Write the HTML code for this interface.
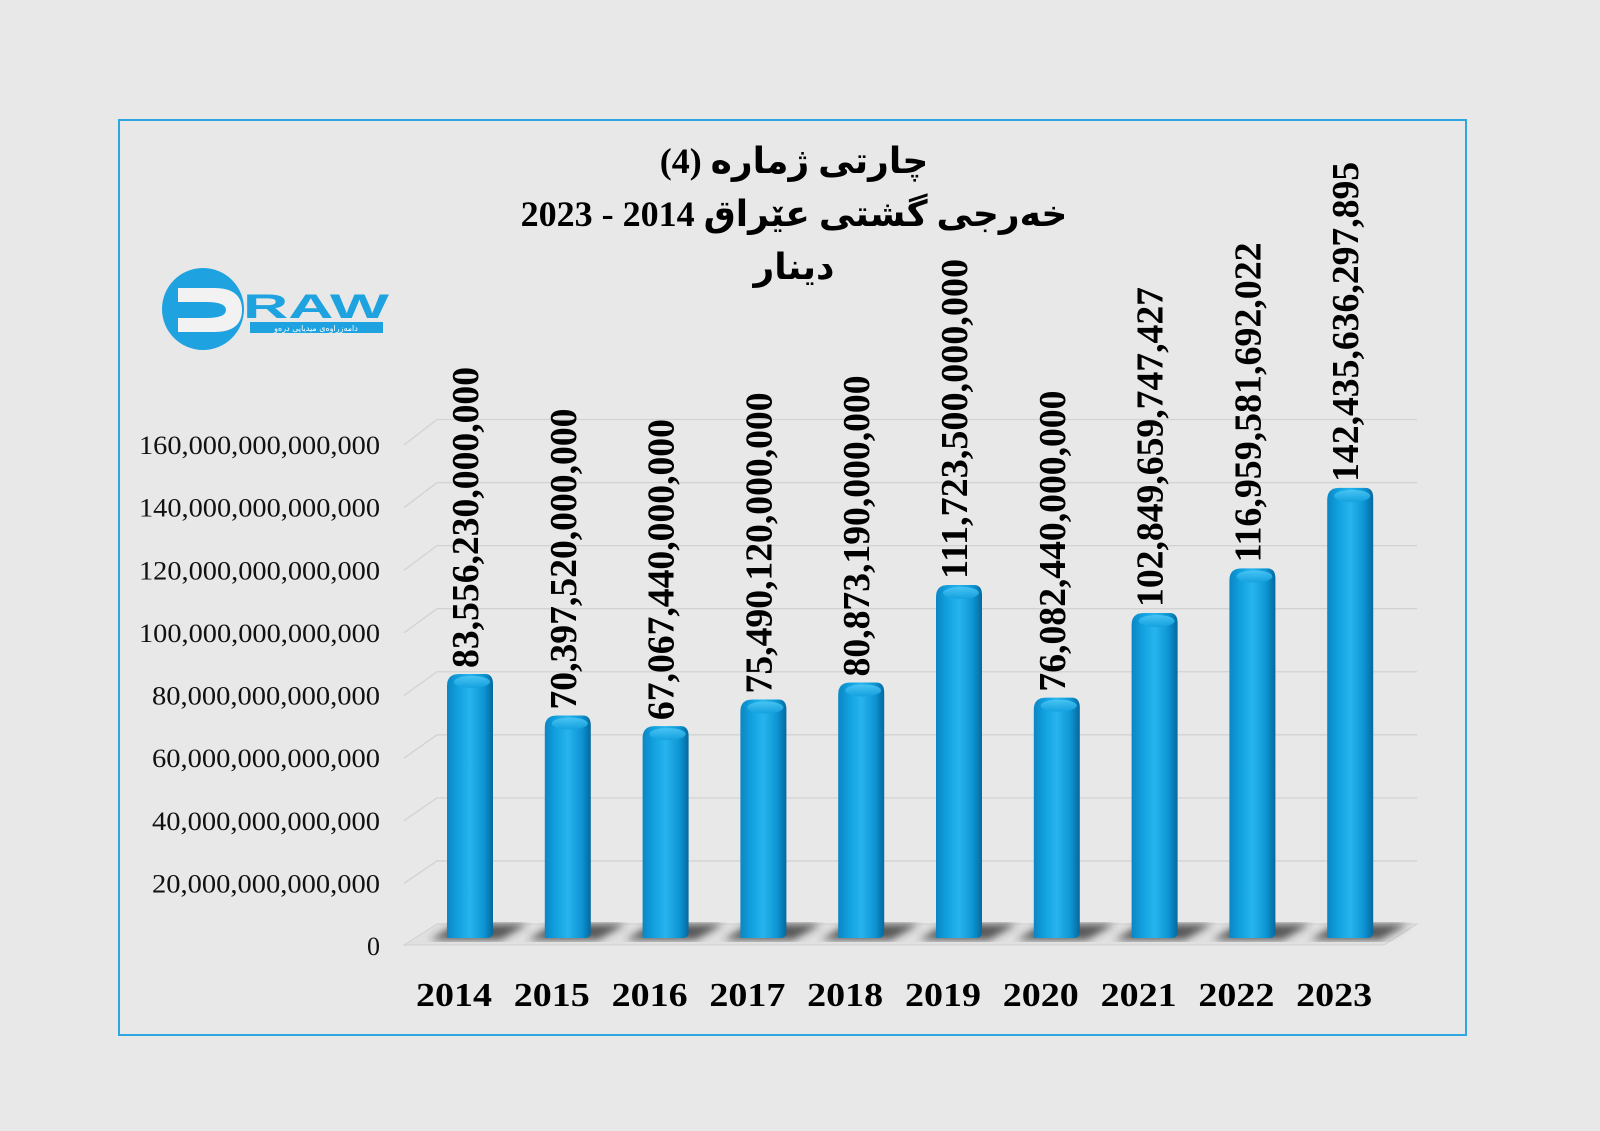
<!DOCTYPE html>
<html><head><meta charset="utf-8">
<style>
body{margin:0;background:#e8e8e8;}
svg{display:block;}
</style></head>
<body>
<svg id="chart" width="1600" height="1131" viewBox="0 0 1600 1131" xmlns="http://www.w3.org/2000/svg">
<defs>
<linearGradient id="barG" x1="0" x2="1" y1="0" y2="0">
<stop offset="0" stop-color="#0b86c4"/>
<stop offset="0.25" stop-color="#12a2e0"/>
<stop offset="0.5" stop-color="#27b4ee"/>
<stop offset="0.8" stop-color="#0d95d3"/>
<stop offset="1" stop-color="#05689e"/>
</linearGradient>
<linearGradient id="capG" x1="0" x2="0" y1="0" y2="1">
<stop offset="0" stop-color="#4cc6f5"/>
<stop offset="1" stop-color="#13a0de"/>
</linearGradient>
<filter id="blur"><feGaussianBlur stdDeviation="4"/></filter>
</defs>
<rect x="0" y="0" width="1600" height="1131" fill="#e8e8e8"/>
<rect x="119" y="120" width="1347" height="915" fill="none" stroke="#2ea6df" stroke-width="2"/>

<g font-family="'Liberation Serif','DejaVu Sans',serif" font-weight="bold" font-size="36" text-anchor="middle" fill="#000">
<text x="794" y="173" direction="rtl">چارتی ژمارە (4)</text>
<text x="794" y="226" direction="rtl">خەرجی گشتی عێراق 2014 - 2023</text>
<text x="794" y="279" direction="rtl">دینار</text>
</g>

<g>
<circle cx="203" cy="309" r="41" fill="#1ea3e0"/>
<path d="M178 288 L214 288 Q242 288 242 310 Q242 332 214 332 L178 332 L178 318 L206 318 Q226 318 226 310 Q226 302 206 302 L178 302 Z" fill="#f2f2f2"/>
<text x="243" y="318" font-family="'Liberation Sans',sans-serif" font-weight="bold" font-size="34" fill="#1ea3e0" textLength="146" lengthAdjust="spacingAndGlyphs">RAW</text>
<rect x="250" y="322" width="133" height="11" fill="#1ea3e0"/>
<text x="316" y="331" font-family="'DejaVu Sans',sans-serif" font-size="8" fill="#fff" text-anchor="middle" direction="rtl">دامەزراوەی میدیایی درەو</text>
</g>

<g id="grid"></g>
<g id="floor"></g>
<g id="yaxis"></g>
<g id="bars"></g>
<g id="vlabels"></g>
<g id="xaxis"></g>
</svg>
<script>
const categories = ["2014","2015","2016","2017","2018","2019","2020","2021","2022","2023"];
const values = [83.55623, 70.39752, 67.06744, 75.49012, 80.87319, 111.7235, 76.08244, 102.8496597, 116.9595817, 142.4356363];
const valueLabels = ["83,556,230,000,000","70,397,520,000,000","67,067,440,000,000","75,490,120,000,000","80,873,190,000,000","111,723,500,000,000","76,082,440,000,000","102,849,659,747,427","116,959,581,692,022","142,435,636,297,895"];
const yTicks = [0,20,40,60,80,100,120,140,160];
const yTickLabels = ["0","20,000,000,000,000","40,000,000,000,000","60,000,000,000,000","80,000,000,000,000","100,000,000,000,000","120,000,000,000,000","140,000,000,000,000","160,000,000,000,000"];

const NS = "http://www.w3.org/2000/svg";
const baseY = 938, scale = 3.16;
function yBar(v){ return baseY - v*scale; }
function yBack(v){ return 924 - v*3.153; }
function yFront(v){ return 946 - v*3.131; }
function xCenter(i){ return 470 + i*97.8; }
function mk(tag, attrs, parent){ const e=document.createElementNS(NS,tag); for(const k in attrs) e.setAttribute(k,attrs[k]); parent.appendChild(e); return e; }

const grid=document.getElementById('grid');
const yaxis=document.getElementById('yaxis');
yTicks.forEach((t,i)=>{
  const yb=yBack(t), yf=yFront(t);
  if(t>0){
    const l=mk('path',{d:`M404 ${yf} L437 ${yb} L1417 ${yb}`,fill:'none',stroke:'#d2d2d2','stroke-width':1.3},grid);
    
    
  }
  const tx=mk('text',{x:380,y:yf+9,'text-anchor':'end','font-family':"'Liberation Serif',serif",'font-size':26,fill:'#111'},yaxis);
  
  
  tx.textContent=yTickLabels[i];
  if(t>0){ tx.setAttribute('textLength', String(yTickLabels[i].length>18?241:228)); tx.setAttribute('lengthAdjust','spacingAndGlyphs'); }
});
const floor=document.getElementById('floor');
const fl=mk('path',{d:'M404 945 L437 924 L1417 924 L1384 945 Z',fill:'#e0e0e0',stroke:'#cfcfcf'},floor);



const bars=document.getElementById('bars');
const vl=document.getElementById('vlabels');
const xa=document.getElementById('xaxis');
categories.forEach((c,i)=>{
  const cx=xCenter(i), w=46, top=yBar(values[i]);
  const sh=mk('path',{d:`M${cx-40} 940 L${cx-14} 924 L${cx+58} 924 L${cx+30} 940 Z`,fill:'#2a2a2a',opacity:0.75,filter:'url(#blur)'},floor);
  
  
  const g=mk('g',{},bars);
  
  
  mk('path',{d:`M${cx-w/2} ${baseY} L${cx-w/2} ${top+12} Q${cx-w/2} ${top} ${cx-w/2+12} ${top} L${cx+w/2-8} ${top} Q${cx+w/2} ${top} ${cx+w/2} ${top+10} L${cx+w/2} ${baseY-6} Q${cx+w/2} ${baseY} ${cx+w/2-6} ${baseY} Z`,fill:'url(#barG)'},g);
  mk('ellipse',{cx:cx+2,cy:top+8,rx:w/2-5,ry:6,fill:'url(#capG)',opacity:0.9},g);
  const t=mk('text',{transform:`translate(${cx+8},${top-6}) rotate(-90)`,'font-family':"'Liberation Serif',serif",'font-weight':'bold','font-size':38,fill:'#000'},vl);
  
  
  t.textContent=valueLabels[i];
  const nd=valueLabels[i].replace(/,/g,'').length, nc=valueLabels[i].length-nd;
  t.setAttribute('textLength', String(Math.round((nd*0.5+nc*0.25)*38*0.99)));
  t.setAttribute('lengthAdjust','spacingAndGlyphs');
  const x=mk('text',{x:cx-16,y:1006,'text-anchor':'middle','font-family':"'Liberation Serif',serif",'font-weight':'bold','font-size':34,fill:'#000',textLength:76,lengthAdjust:'spacingAndGlyphs'},xa);
  
  
  x.textContent=c;
});
</script>
</body></html>
